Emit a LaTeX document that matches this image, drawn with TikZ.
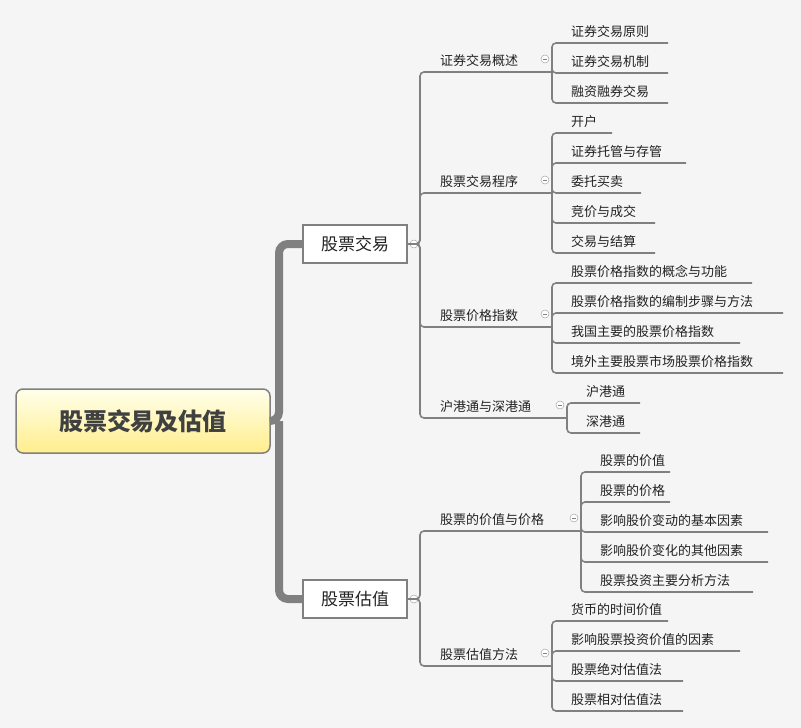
\documentclass[tikz,border=0pt]{standalone}
\usepackage{fontspec}
\setmainfont{Noto Sans CJK SC}
\begin{document}
\begin{tikzpicture}[x=1pt,y=-1pt]
\definecolor{bg}{HTML}{F5F5F5}
\definecolor{ln}{HTML}{808080}
\definecolor{tx}{HTML}{222222}
\tikzset{
  line/.style={draw=ln,line width=1.6pt},
  leaf/.style={inner sep=0,anchor=base west,font=\fontsize{13}{13}\selectfont,text=tx},
  topic/.style={draw=ln,line width=1.5pt,fill=white,minimum width=104pt,minimum height=38pt,font=\fontsize{17}{17}\selectfont,text=tx},
  coll/.style={circle,draw=ln!70,fill=white,line width=0.5pt,minimum size=8pt,inner sep=0,
    path picture={\draw[ln,line width=0.5pt] ([xshift=-2pt]path picture bounding box.center)--([xshift=2pt]path picture bounding box.center);}}
}
\fill[bg] (0,0) rectangle (801,728);
% root
\node[draw=ln,line width=1.5pt,rounded corners=7pt,top color=yellow!8,bottom color=yellow!70!orange!45,
  minimum width=254pt,minimum height=64pt,font=\fontsize{24}{24}\selectfont\bfseries,text=black!75] (root) at (143,421) {股票交易及估值};
\node[topic] (b1) at (355,244) {股票交易};
\node[topic] (b2) at (355,599) {股票估值};
\draw[draw=ln,line width=8pt,rounded corners=9pt] (root.east) -- (279,421) |- (b1.west);
\draw[draw=ln,line width=8pt,rounded corners=9pt] (279,421) |- (b2.west);
\node[coll] (c1) at (414,244) {};
\node[coll] (c2) at (414,599) {};
\foreach \nm/\tx/\py/\bx/\br in {p1/证券交易概述/72/552/b1, p2/股票交易程序/193/552/b1, p3/股票价格指数/327/552/b1, p4/沪港通与深港通/418/567/b1, p5/股票的价值与价格/531/581/b2, p6/股票估值方法/666/552/b2}{
  \node[leaf] (\nm) at (440,\py-7) {\tx};
  \draw[line,rounded corners=4pt] (\br.east) -| (420,\py) -- (\bx,\py);
  \node[coll] at (\bx-7,\py-13) {};
}
\foreach \nm/\tx/\y/\bx/\xe/\py in {
 a1/证券交易原则/43/552/668/72, a2/证券交易机制/73/552/668/72, a3/融资融券交易/103/552/668/72,
 d1/开户/133/552/612/193, d2/证券托管与存管/163/552/686/193, d3/委托买卖/193/552/641/193, d4/竞价与成交/223/552/655/193, d5/交易与结算/253/552/655/193,
 e1/股票价格指数的概念与功能/283/552/752/327, e2/股票价格指数的编制步骤与方法/313/552/783/327, e3/我国主要的股票价格指数/343/552/740/327, e4/境外主要股票市场股票价格指数/373/552/783/327,
 f1/沪港通/403/567/640/418, f2/深港通/433/567/640/418,
 g1/股票的价值/472/581/670/531, g2/股票的价格/502/581/670/531, g3/影响股价变动的基本因素/532/581/768/531, g4/影响股价变化的其他因素/562/581/768/531, g5/股票投资主要分析方法/592/581/753/531,
 h1/货币的时间价值/621/552/668/666, h2/影响股票投资价值的因素/651/552/740/666, h3/股票绝对估值法/681/552/683/666, h4/股票相对估值法/711/552/683/666}{
  \node[leaf] (\nm) at (\bx+19,\y-7) {\tx};
  \draw[line,rounded corners=4pt] (\bx,\py) |- (\xe,\y);
}
\end{tikzpicture}
\end{document}
